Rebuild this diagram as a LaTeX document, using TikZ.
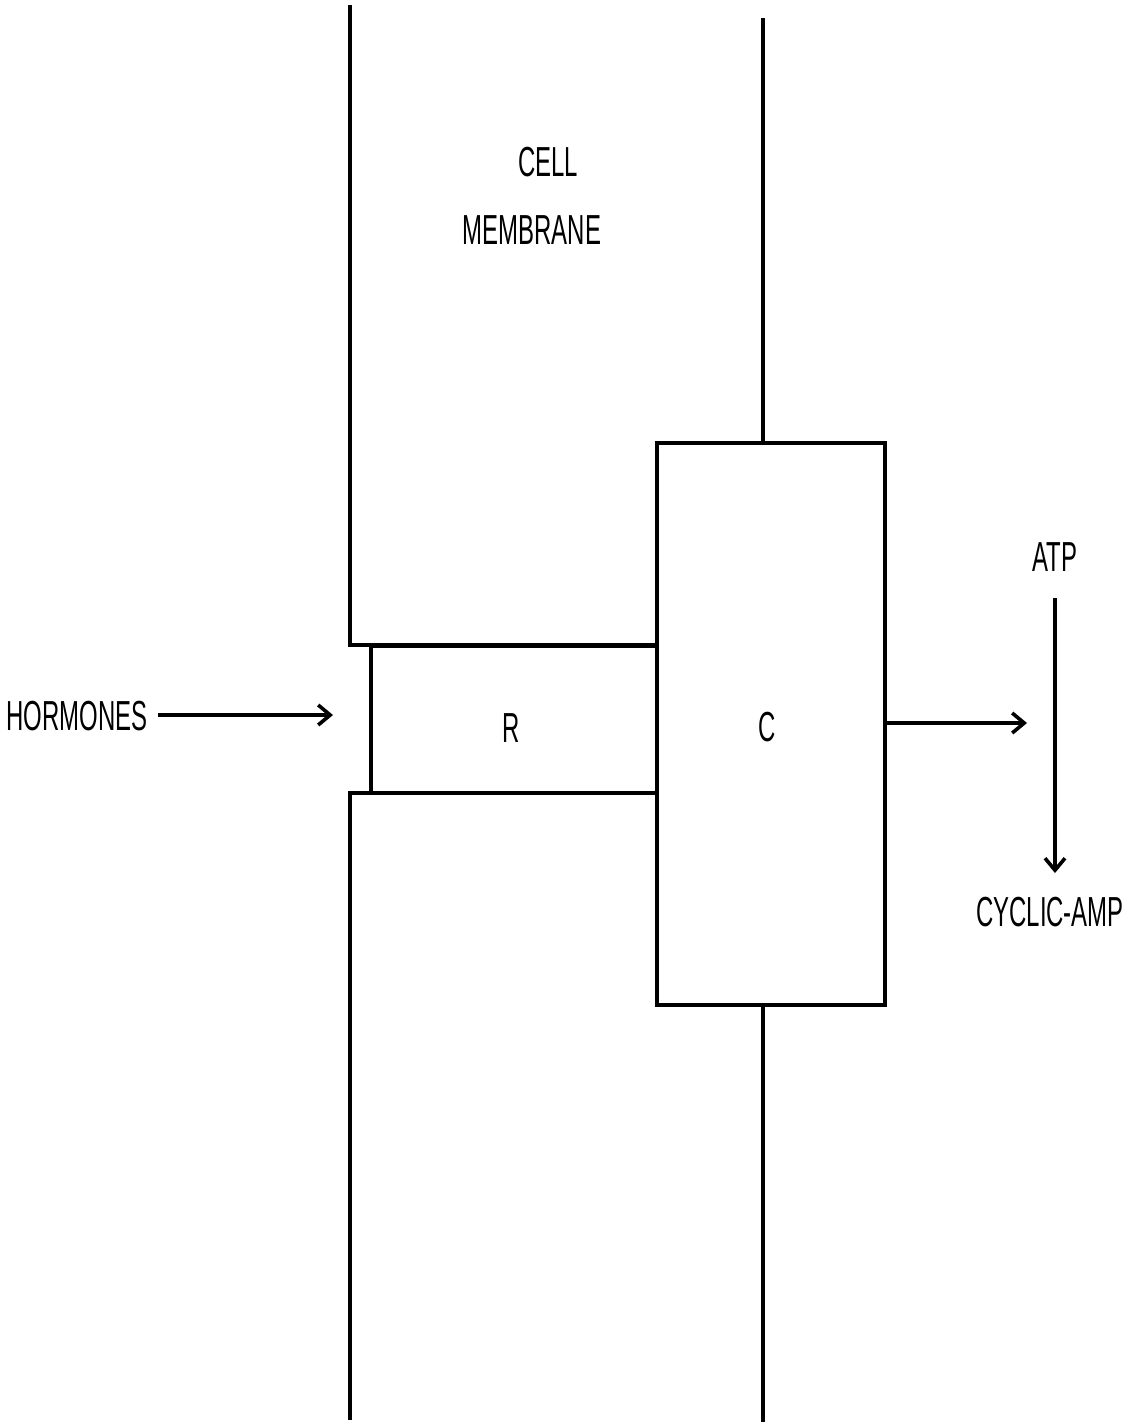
\documentclass[tikz,border=0pt]{standalone}
\usepackage{fontspec}
\setmainfont{Liberation Sans}[FakeStretch=0.57]
\usetikzlibrary{arrows.meta}
\begin{document}
\begin{tikzpicture}[x=0.5pt,y=-0.5pt,
  line width=1.8pt,
  lbl/.style={font=\fontsize{21}{24}\selectfont, inner sep=0pt},
  boxnode/.style={draw, inner sep=0pt, line width=1.8pt},
  arr/.style={-{Straight Barb[length=6pt,width=10pt,line width=1.8pt]}, line width=1.8pt}]
\useasboundingbox (0,0) rectangle (1145,1425);
% membrane lines
\draw (350,5) -- (350,645) -- (657,645);
\draw (350,1420) -- (350,793) -- (657,793);
\draw (763,18) -- (763,443);
\draw (763,1005) -- (763,1422);
% boxes
\node[boxnode, minimum width=143pt, minimum height=73.5pt] (R) at (514,719.5) {};
\node[lbl] (Rl) at (511,728) {R};
\node[boxnode, minimum width=114pt, minimum height=281pt] (C) at (771,724) {};
\node[lbl] (Cl) at (767,727) {C};
% labels
\node[lbl] (cell) at (548,162) {CELL};
\node[lbl] (memb) at (532,230) {MEMBRANE};
\node[lbl] (horm) at (77,716) {HORMONES};
\node[lbl] (atp) at (1055,557) {ATP};
\node[lbl] (camp) at (1050,912) {CYCLIC-AMP};
% connectors
\coordinate (hstart) at (158,715);
\coordinate (hend) at (333,715);
\coordinate (cend) at (1027,723);
\coordinate (atop) at (1055,598);
\coordinate (abot) at (1055,873);
\draw[arr] (hstart) -- (hend);
\draw[arr] (C.east |- cend) -- (cend);
\draw[arr] (atop) -- (abot);
\end{tikzpicture}
\end{document}
